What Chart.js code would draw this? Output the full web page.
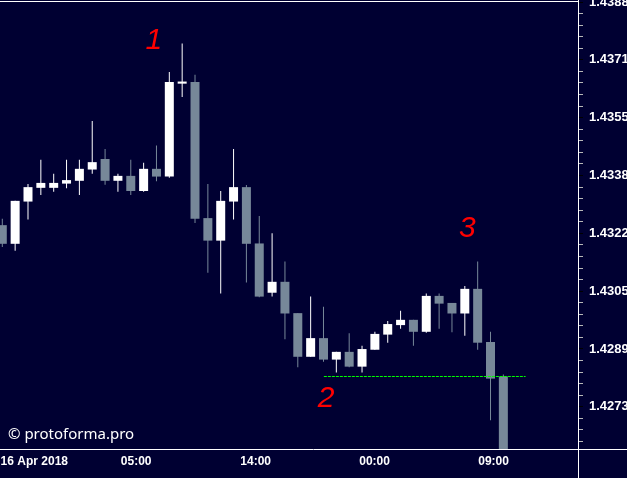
<!DOCTYPE html>
<html>
<head>
<meta charset="utf-8">
<script src="https://cdn.jsdelivr.net/npm/chart.js@4.4.1/dist/chart.umd.min.js"></script>
<style>
  html, body { margin: 0; padding: 0; background: #000032; }
  canvas { display: block; }
</style>
</head>
<body>
<canvas id="chart" width="627" height="478"></canvas>
<script>
// H1 candles (bar 0 is the leftmost, partly cut)
const barIndex = [0, 1, 2, 3, 4, 5, 6, 7, 8, 9, 10, 11, 12, 13, 14, 15, 16, 17, 18, 19,
                  20, 21, 22, 23, 24, 25, 26, 27, 28, 29, 30, 31, 32, 33, 34, 35, 36, 37, 38, 39];
const opens  = [1.43242, 1.43189, 1.43309, 1.43348, 1.43348, 1.43360, 1.43368, 1.43400, 1.43430, 1.43368,
                1.43382, 1.43339, 1.43402, 1.43380, 1.43644, 1.43649, 1.43262, 1.43198, 1.43309, 1.43350,
                1.43190, 1.43050, 1.43081, 1.42992, 1.42868, 1.42921, 1.42860, 1.42882, 1.42840, 1.42888,
                1.42931, 1.42958, 1.42973, 1.42939, 1.43041, 1.43021, 1.42991, 1.43061, 1.42910, 1.42812];
const highs  = [1.43260, 1.43311, 1.43359, 1.43428, 1.43388, 1.43428, 1.43428, 1.43538, 1.43458, 1.43388,
                1.43428, 1.43419, 1.43468, 1.43677, 1.43758, 1.43669, 1.43359, 1.43339, 1.43458, 1.43356,
                1.43268, 1.43219, 1.43139, 1.42992, 1.43039, 1.43010, 1.42882, 1.42935, 1.42899, 1.42939,
                1.42970, 1.42999, 1.42973, 1.43048, 1.43048, 1.43021, 1.43069, 1.43139, 1.42939, 1.42818];
const lows   = [1.43180, 1.43169, 1.43258, 1.43328, 1.43337, 1.43347, 1.43328, 1.43388, 1.43357, 1.43337,
                1.43328, 1.43337, 1.43367, 1.43377, 1.43606, 1.43248, 1.43107, 1.43048, 1.43258, 1.43079,
                1.43037, 1.43039, 1.42918, 1.42838, 1.42868, 1.42854, 1.42823, 1.42838, 1.42823, 1.42888,
                1.42908, 1.42948, 1.42899, 1.42936, 1.42948, 1.42938, 1.42928, 1.42888, 1.42688, 1.42540];
const closes = [1.43189, 1.43311, 1.43350, 1.43362, 1.43362, 1.43370, 1.43402, 1.43421, 1.43368, 1.43382,
                1.43339, 1.43402, 1.43380, 1.43649, 1.43650, 1.43260, 1.43198, 1.43311, 1.43350, 1.43189,
                1.43039, 1.43081, 1.42991, 1.42868, 1.42921, 1.42860, 1.42882, 1.42840, 1.42890, 1.42933,
                1.42961, 1.42973, 1.42939, 1.43041, 1.43019, 1.42991, 1.43061, 1.42908, 1.42806, 1.42546];

// dotted green level
const levelPrice = 1.42812;
const levelFromBar = 25.03;
const levelToBar = 40.73;

// price axis
const yMin = 1.42606;
const yMax = 1.43876;
const yTickValues = [1.43876, 1.437117, 1.435474, 1.433831, 1.432188, 1.430545, 1.428902, 1.427259];
const yTickLabels = ['1.4388', '1.4371', '1.4355', '1.4338', '1.4322', '1.4305', '1.4289', '1.4273'];

// time axis
const xMin = -0.179;
const xMax = 44.81;
const xTickPos = [2.49, 10.42, 19.72, 28.98, 38.24];
const xTickLabels = ['16 Apr 2018', '05:00', '14:00', '00:00', '09:00'];

// handwritten marks
const markTexts = ['1', '2', '3'];
const markBars = [11.8, 25.2, 36.2];
const markPrices = [1.43765, 1.42748, 1.43231];

const BG = '#000032';
const BULL = '#ffffff';
const BEAR = '#778899';

const candleColors = opens.map((o, i) => closes[i] > o ? BULL : BEAR);

// minor ticks: 5 steps between labelled ones, carried on below the last
const yStep = yTickValues[0] - yTickValues[1];
const yTicks = [];
yTickValues.forEach(v => {
    yTicks.push({ value: v, major: true });
    for (let k = 1; k < 5; k++) {
        const m = v - k * yStep / 5;
        if (m > yMin) yTicks.push({ value: m, major: false });
    }
});

const background = {
    id: 'background',
    beforeDraw(chart) {
        const ctx = chart.ctx;
        ctx.save();
        ctx.fillStyle = BG;
        ctx.fillRect(0, 0, chart.width, chart.height);
        ctx.restore();
    }
};

const frame = {
    id: 'frame',
    afterDraw(chart) {
        const ctx = chart.ctx;
        const area = chart.chartArea;
        ctx.save();
        ctx.strokeStyle = '#ffffff';
        ctx.lineWidth = 1;
        ctx.beginPath();
        ctx.moveTo(area.left, area.top - 0.5);
        ctx.lineTo(area.right, area.top - 0.5);
        ctx.moveTo(0, area.bottom + 0.5);
        ctx.lineTo(chart.width, area.bottom + 0.5);
        ctx.moveTo(area.right + 0.5, 0);
        ctx.lineTo(area.right + 0.5, chart.height);
        ctx.stroke();

        ctx.fillStyle = '#ffffff';
        ctx.font = '15px "Noto Sans"';
        ctx.textAlign = 'left';
        ctx.textBaseline = 'alphabetic';
        ctx.fillText('\u00a9 protoforma.pro', area.left + 8, area.bottom - 10);

        ctx.fillStyle = '#ff0000';
        ctx.font = 'italic 30px "Liberation Sans"';
        ctx.textAlign = 'center';
        ctx.textBaseline = 'middle';
        markTexts.forEach((t, i) => {
            const x = chart.scales.x.getPixelForValue(markBars[i]);
            const y = chart.scales.y.getPixelForValue(markPrices[i]);
            ctx.fillText(t, x, y);
        });
        ctx.restore();
    }
};

new Chart(document.getElementById('chart'), {
    type: 'bar',
    data: {
        datasets: [
            {
                type: 'line',
                data: [{ x: levelFromBar, y: levelPrice }, { x: levelToBar, y: levelPrice }],
                borderColor: '#00ff00',
                borderWidth: 1,
                borderDash: [3, 1],
                pointRadius: 0,
                order: -1
            },
            {
                data: barIndex.map(i => ({ x: i, y: [opens[i], closes[i]] })),
                backgroundColor: candleColors,
                barThickness: 9,
                inflateAmount: 0,
                grouped: false,
                order: 0
            },
            {
                data: barIndex.map(i => ({ x: i, y: [lows[i], highs[i]] })),
                backgroundColor: candleColors,
                barThickness: 1,
                inflateAmount: 0,
                grouped: false,
                order: 1
            }
        ]
    },
    options: {
        responsive: false,
        animation: false,
        layout: { padding: { top: 2, left: 0, right: 0, bottom: 0 } },
        plugins: {
            legend: { display: false },
            tooltip: { enabled: false }
        },
        scales: {
            x: {
                type: 'linear',
                offset: false,
                min: xMin,
                max: xMax,
                afterBuildTicks: scale => {
                    scale.ticks = xTickPos.map(v => ({ value: v }));
                },
                afterFit: scale => {
                    scale.height = 29;
                    scale.paddingLeft = 0;
                    scale.paddingRight = 0;
                },
                grid: { display: false, drawTicks: false },
                border: { display: false },
                ticks: {
                    autoSkip: false,
                    maxRotation: 0,
                    padding: 5,
                    color: '#ffffff',
                    font: { family: 'Liberation Sans', size: 12, weight: 'bold' },
                    callback: (v, i) => xTickLabels[i]
                }
            },
            y: {
                position: 'right',
                min: yMin,
                max: yMax,
                afterBuildTicks: scale => {
                    scale.ticks = yTicks.map(t => ({ value: t.value, major: t.major }));
                },
                afterFit: scale => {
                    scale.width = 49;
                    scale.paddingTop = 0;
                    scale.paddingBottom = 0;
                },
                grid: {
                    drawOnChartArea: false,
                    tickLength: 5,
                    tickColor: ctx => (ctx.tick && ctx.tick.major) ? '#000000' : '#b8b8b8'
                },
                border: { display: false },
                ticks: {
                    autoSkip: false,
                    padding: 6,
                    color: '#ffffff',
                    font: { family: 'Liberation Sans', size: 13, weight: 'bold' },
                    callback: (v, i, ticks) => {
                        const k = yTickValues.indexOf(ticks[i].value);
                        return k >= 0 ? yTickLabels[k] : '';
                    }
                }
            }
        }
    },
    plugins: [background, frame]
});
</script>
</body>
</html>
